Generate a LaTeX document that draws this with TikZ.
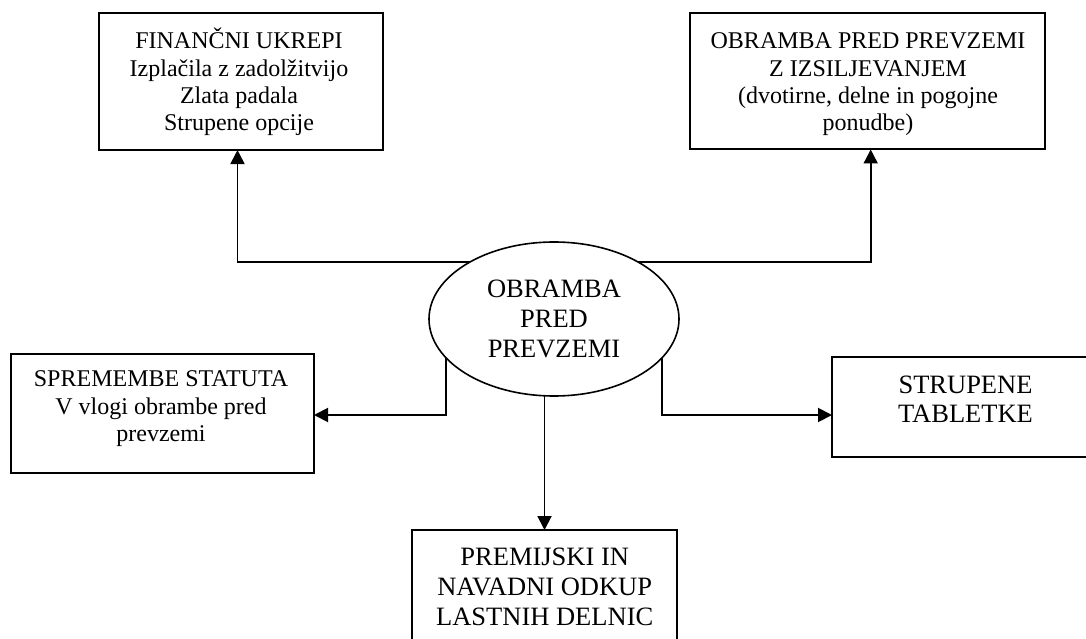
\documentclass[tikz,border=0pt]{standalone}
\usepackage{fontspec}
\setmainfont{Liberation Serif}
\usetikzlibrary{shapes.geometric,arrows.meta}
\begin{document}
\begin{tikzpicture}[x=1pt,y=-1pt,
  box/.style={draw, line width=2pt, rectangle, inner sep=0pt, outer sep=0pt},
  txtA/.style={align=center, inner sep=0pt, font=\fontsize{24}{27.4}\selectfont},
  txtB/.style={align=center, inner sep=0pt, font=\fontsize{26.5}{30.2}\selectfont},
  conn/.style={line width=1.9pt, -{Triangle[length=14pt,width=14pt]}},
]
\path[use as bounding box, fill=white] (0,0) rectangle (1086,639);
\clip (0,0) rectangle (1086,639);

% central ellipse
\node[draw, ellipse, line width=1.6pt, minimum width=250pt, minimum height=154pt,
      outer sep=0pt, txtB] (ell) at (554,319) {OBRAMBA\\PRED\\PREVZEMI};

% boxes
\node[box, minimum width=284pt, minimum height=136.7pt] (b1) at (241,81.7) {};
\node[txtA] (t1) at (239,82) {FINANČNI UKREPI\\Izplačila z zadolžitvijo\\Zlata padala\\Strupene opcije};

\node[box, minimum width=355pt, minimum height=136pt] (b2) at (867.5,81.5) {};
\node[txtA] (t2) at (868,84.5) {OBRAMBA PRED PREVZEMI\\Z IZSILJEVANJEM\\(dvotirne, delne in pogojne\\ponudbe)};

\node[box, minimum width=303pt, minimum height=119pt] (b3) at (162.5,413.5) {};
\node[txtA] (t3) at (161,408.8) {SPREMEMBE STATUTA\\V vlogi obrambe pred\\prevzemi};

\node[box, minimum width=268pt, minimum height=100pt] (b4) at (966,407) {};
\node[txtB, font=\fontsize{26.5}{29}\selectfont] (t4) at (965.5,399.5) {STRUPENE\\TABLETKE};

\node[box, minimum width=265pt, minimum height=120pt] (b5) at (544.5,590) {};
\node[txtB, font=\fontsize{26.5}{30}\selectfont] (t5) at (544.7,586.8) {PREMIJSKI IN\\NAVADNI ODKUP\\LASTNIH DELNIC};

% connectors
\draw[conn] (ell.146) -| ([xshift=-3.5pt]b1.south);
\draw[conn] (ell.34) -| ([xshift=3.2pt]b2.south);
\draw[conn] (ell.200) |- ([yshift=-1.5pt]b3.east);
\draw[conn] (ell.340) |- ([yshift=-8pt]b4.west);
\draw[conn] (ell.south -| b5.north) -- (b5.north);
\end{tikzpicture}
\end{document}
